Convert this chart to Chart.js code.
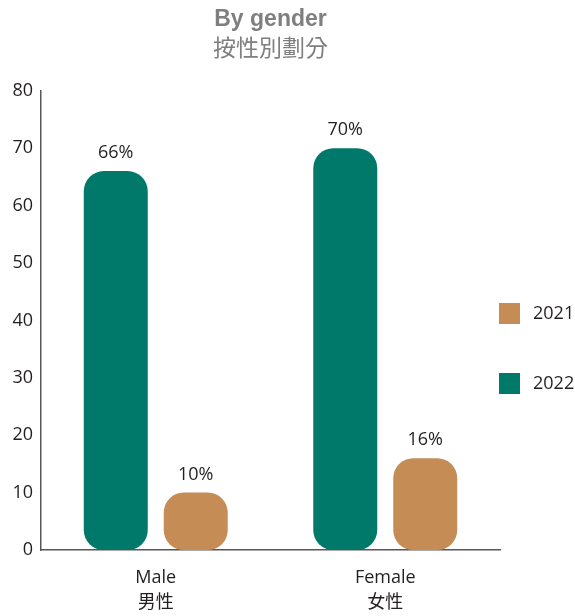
<!DOCTYPE html>
<html>
<head>
<meta charset="utf-8">
<script src="https://cdn.jsdelivr.net/npm/chart.js@4/dist/chart.umd.min.js"></script>
<style>
    html, body { margin: 0; padding: 0; background: #fff; }
    #wrap { width: 575px; height: 616px; position: relative; }
</style>
</head>
<body>
<div id="wrap"><canvas id="c"></canvas></div>
<script>
// ===== By gender / 按性別劃分 =====

var categories = [['Male', '男性'], ['Female', '女性']];
var years = ['2022', '2021'];
var values2022 = [66, 70];
var values2021 = [10, 16];
var yTicks = [0, 10, 20, 30, 40, 50, 60, 70, 80];

(function() {
    'use strict';

    var TEAL = '#00796b';
    var TAN = '#c68c55';
    var TEXT = '#231f20';
    var GREY = '#7f7f7f';
    var FONT = "'Open Sans', 'Noto Sans CJK TC', sans-serif";

    // value labels above each bar
    var barLabels = {
        id: 'barLabels',
        afterDatasetsDraw: function(chart) {
            var ctx = chart.ctx;
            ctx.save();
            ctx.font = '18px ' + FONT;
            ctx.fillStyle = TEXT;
            ctx.textAlign = 'center';
            ctx.textBaseline = 'alphabetic';
            chart.data.datasets.forEach(function(ds, i) {
                var meta = chart.getDatasetMeta(i);
                meta.data.forEach(function(el, j) {
                    ctx.fillText(ds.data[j] + '%', el.x, el.y - 13);
                });
            });
            ctx.restore();
        }
    };

    // legend on the right, 2021 above 2022
    var sideLegend = {
        id: 'sideLegend',
        afterDraw: function(chart) {
            var ctx = chart.ctx;
            var x = chart.chartArea.right - 1;
            var ys = [303, 373];
            var order = chart.data.datasets.slice().reverse();
            ctx.save();
            ctx.font = '18px ' + FONT;
            ctx.textBaseline = 'middle';
            ctx.textAlign = 'left';
            for (var i = 0; i < order.length; i++) {
                ctx.fillStyle = order[i].backgroundColor;
                ctx.fillRect(x, ys[i], 21, 21);
                ctx.fillStyle = TEXT;
                ctx.fillText(order[i].label, x + 34, ys[i] + 11);
            }
            ctx.restore();
        }
    };

    new Chart(document.getElementById('c'), {
        type: 'bar',
        data: {
            labels: categories,
            datasets: [
                { label: years[0], data: values2022, backgroundColor: TEAL },
                { label: years[1], data: values2021, backgroundColor: TAN }
            ]
        },
        options: {
            responsive: true, maintainAspectRatio: false, animation: false,
            datasets: {
                bar: { borderRadius: 20, borderSkipped: false, barPercentage: 0.8, categoryPercentage: 0.697 }
            },
            layout: { padding: { left: 0, right: 75, top: 4, bottom: 0 } },
            plugins: {
                legend: { display: false },
                tooltip: { enabled: false },
                title: {
                    display: true, fullSize: false, text: 'By gender', color: GREY,
                    font: { family: "'Liberation Sans', Arial, sans-serif", size: 23, weight: 'bold', lineHeight: 1.1 },
                    padding: { top: 3, bottom: 2 }
                },
                subtitle: {
                    display: true, fullSize: false, text: '按性別劃分', color: GREY,
                    font: { family: "'Noto Sans CJK TC', sans-serif", size: 23, weight: 'normal', lineHeight: 1.15 },
                    padding: { top: 0, bottom: 30 }
                }
            },
            scales: {
                x: {
                    afterFit: function(scale) { scale.height = 66; },
                    grid: { display: false, drawTicks: false },
                    border: { display: true, color: '#5a5556', width: 1.5 },
                    ticks: { color: TEXT, padding: 15, font: { family: FONT, size: 18, lineHeight: 1.4 } }
                },
                y: {
                    min: 0, max: 80,
                    afterBuildTicks: function(scale) {
                        scale.ticks = yTicks.map(function(v) { return { value: v }; });
                    },
                    afterFit: function(scale) { scale.width = 41; },
                    grid: { display: false, drawTicks: false },
                    border: { display: true, color: '#5a5556', width: 1.5 },
                    ticks: { color: TEXT, padding: 8, font: { family: FONT, size: 18 } }
                }
            }
        },
        plugins: [barLabels, sideLegend]
    });
})();
</script>
</body>
</html>
